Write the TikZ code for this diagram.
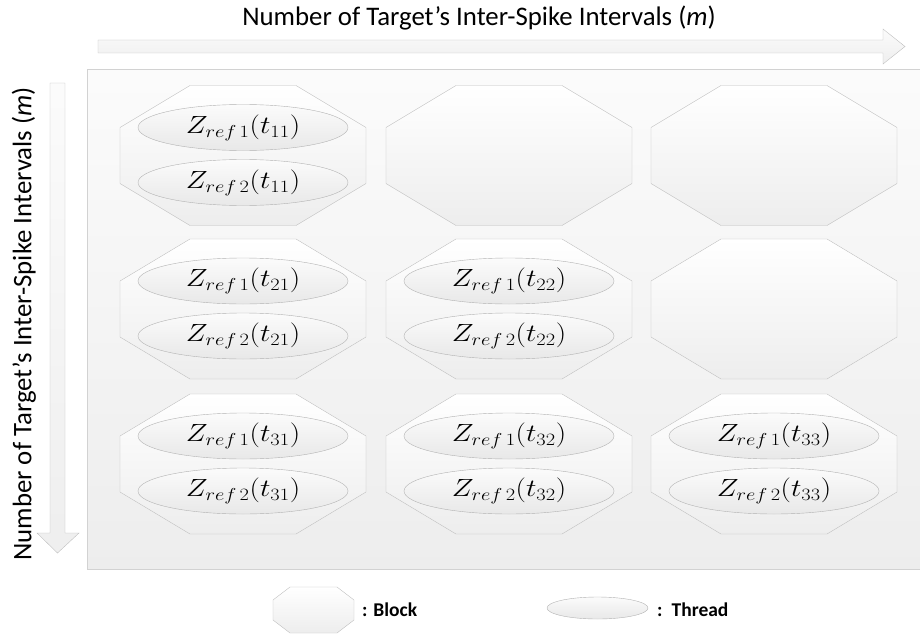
\documentclass[tikz,border=0pt]{standalone}
\usepackage[no-math]{fontspec}
\setmainfont{Carlito}
\usetikzlibrary{shapes.geometric}
\tikzset{
  thread/.style={ellipse, draw=gray!60, top color=gray!3, bottom color=gray!18,
    minimum width=210pt, minimum height=46pt, inner sep=0pt},
  smallthread/.style={ellipse, draw=gray!60, top color=gray!3, bottom color=gray!18,
    minimum width=101pt, minimum height=22pt, inner sep=0pt},
  blockshape/.style={draw=gray!50, top color=white, bottom color=gray!14},
  bigarrow/.style={draw=gray!50, top color=gray!3, bottom color=gray!13},
  panel/.style={draw=gray!35, top color=gray!3, bottom color=gray!14},
  axislabel/.style={font=\fontsize{26.8}{31}\selectfont, inner sep=0pt},
  legendlabel/.style={font=\fontsize{19.5}{22}\selectfont\bfseries, anchor=west, inner sep=0pt},
}
\newcommand\zlab[2]{\scalebox{1.18}[1]{\fontsize{23}{27}\selectfont$Z_{ref\,#1}(t_{#2})$}}
% #1 name, #2 centre, #3 half width, #4 half height, #5 horizontal cut, #6 vertical cut
\newcommand\octblock[6]{%
  \coordinate (#1) at #2;
  \path[blockshape]
    ([shift={(-#3+#5,-#4)}]#1) -- ([shift={(#3-#5,-#4)}]#1) --
    ([shift={(#3,-#4+#6)}]#1) -- ([shift={(#3,#4-#6)}]#1) --
    ([shift={(#3-#5,#4)}]#1) -- ([shift={(-#3+#5,#4)}]#1) --
    ([shift={(-#3,#4-#6)}]#1) -- ([shift={(-#3,-#4+#6)}]#1) -- cycle;}
\begin{document}
\begin{tikzpicture}[x=1pt,y=-1pt]
\useasboundingbox (0,0) rectangle (920,634);

% axis title (top)
\node[axislabel] (toptitle) at (479,18) {Number of Target’s Inter-Spike Intervals (\textit{m})};
% horizontal arrow
\path[bigarrow] (98,40) -- (883,40) -- (883,29) -- (905,46.5) -- (883,64) -- (883,53) -- (98,53) -- cycle;

% vertical arrow
\path[bigarrow] (50,83) -- (65,83) -- (65,533) -- (79,533) -- (57.5,553) -- (37,533) -- (50,533) -- cycle;
\node[axislabel, rotate=90] (lefttitle) at (24,324) {Number of Target’s Inter-Spike Intervals (\textit{m})};

% panel
\path[panel] (87,69) rectangle (921,569);

% blocks
\octblock{b11}{(243,155.5)}{123}{70}{70}{42}
\octblock{b12}{(509,155.5)}{123}{70}{70}{42}
\octblock{b13}{(774,155.5)}{123}{70}{70}{42}
\octblock{b21}{(243,309)}{123}{70}{70}{42}
\octblock{b22}{(509,309)}{123}{70}{70}{42}
\octblock{b23}{(774,309)}{123}{70}{70}{42}
\octblock{b31}{(243,464)}{123}{70}{70}{42}
\octblock{b32}{(509,464)}{123}{70}{70}{42}
\octblock{b33}{(774,464)}{123}{70}{70}{42}

% threads
\node[thread] (t11a) at (243,127.5) {\zlab{1}{11}};
\node[thread] (t11b) at (243,182.5) {\zlab{2}{11}};
\node[thread] (t21a) at (243,281) {\zlab{1}{21}};
\node[thread] (t21b) at (243,336) {\zlab{2}{21}};
\node[thread] (t22a) at (509,281) {\zlab{1}{22}};
\node[thread] (t22b) at (509,336) {\zlab{2}{22}};
\node[thread] (t31a) at (243,436) {\zlab{1}{31}};
\node[thread] (t31b) at (243,491) {\zlab{2}{31}};
\node[thread] (t32a) at (509,436) {\zlab{1}{32}};
\node[thread] (t32b) at (509,491) {\zlab{2}{32}};
\node[thread] (t33a) at (774,436) {\zlab{1}{33}};
\node[thread] (t33b) at (774,491) {\zlab{2}{33}};

% legend
\octblock{lgblock}{(313.5,610)}{40.5}{23}{17}{13}
\node[legendlabel] (lgblocktext) at (362,610) {: Block};
\node[smallthread] (lgthread) at (597.5,608) {};
\node[legendlabel] (lgthreadtext) at (657,610) {:\, Thread};
\end{tikzpicture}
\end{document}
